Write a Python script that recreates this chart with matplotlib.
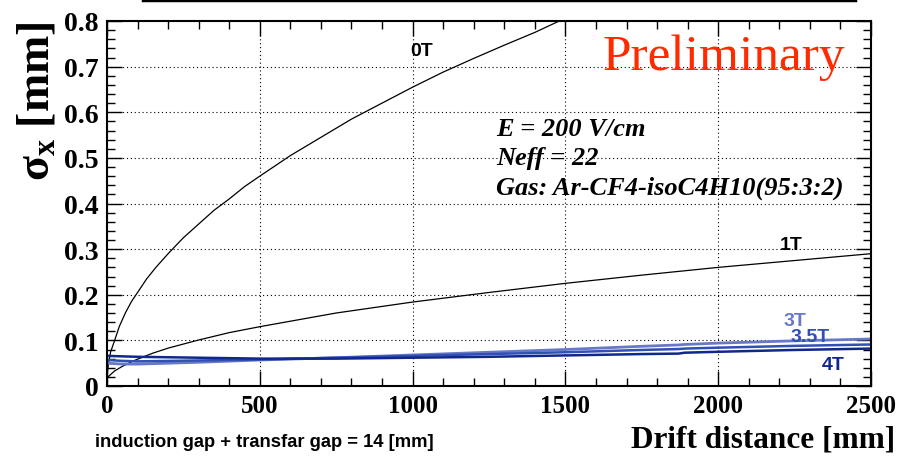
import matplotlib
matplotlib.use("Agg")
import matplotlib.pyplot as plt
from matplotlib.ticker import MultipleLocator, FormatStrFormatter

plt.rcParams["mathtext.fontset"] = "custom"
plt.rcParams["mathtext.rm"] = "Liberation Serif:bold"
plt.rcParams["mathtext.it"] = "Liberation Serif:bold:italic"
plt.rcParams["mathtext.bf"] = "Liberation Serif:bold"

SERIF = "Liberation Serif"
SANS = "Liberation Sans"

# drift distance [mm] and sigma_x [mm]
x_0t = [0, 5, 12, 25, 40, 60, 80, 100, 130, 160, 200, 250, 300, 350, 400, 450, 500, 600, 700,
        800, 900, 1000, 1100, 1200, 1300, 1400, 1480]
y_0t = [0.02, 0.05, 0.075, 0.10, 0.13, 0.16, 0.185, 0.205, 0.235, 0.26, 0.29, 0.325, 0.355,
        0.385, 0.41, 0.437, 0.46, 0.505, 0.545, 0.585, 0.62, 0.655, 0.688, 0.718, 0.747,
        0.775, 0.80]

x_1t = [0, 25, 50, 86, 150, 200, 295, 400, 500, 750, 1000, 1250, 1500, 1750, 2000, 2250, 2500]
y_1t = [0.018, 0.033, 0.043, 0.055, 0.072, 0.083, 0.10, 0.117, 0.13, 0.16, 0.184, 0.205, 0.225,
        0.243, 0.26, 0.275, 0.29]

x_b = [0, 50, 100, 200, 300, 500, 750, 1000, 1250, 1500, 1750, 1870, 1890, 2000, 2250, 2500]
y_3t = [0.050, 0.048, 0.048, 0.050, 0.052, 0.057, 0.062, 0.068, 0.074, 0.080, 0.087, 0.090, 0.091,
        0.094, 0.099, 0.103]
y_35t = [0.057, 0.055, 0.054, 0.055, 0.056, 0.058, 0.062, 0.066, 0.070, 0.074, 0.079, 0.081, 0.082,
         0.084, 0.088, 0.091]
y_4t = [0.066, 0.065, 0.064, 0.063, 0.062, 0.060, 0.060, 0.062, 0.064, 0.067, 0.070, 0.071, 0.073,
        0.075, 0.079, 0.082]

info_lines = ["E = 200 V/cm", "Neff = 22", "Gas: Ar-CF4-isoC4H10(95:3:2)"]

fig = plt.figure(figsize=(9.08, 4.6), dpi=100, facecolor="white")
ax = fig.add_axes([107 / 908, 1 - 387 / 460, 764 / 908, 365 / 460])

ax.plot(x_0t, y_0t, color="black", lw=0.9)
ax.plot(x_1t, y_1t, color="black", lw=0.9)
ax.plot(x_b, y_3t, color="#6878c8", lw=2.0)
ax.plot(x_b, y_35t, color="#3050b4", lw=1.8)
ax.plot(x_b, y_4t, color="#10288c", lw=1.8)

ax.set_xlim(0, 2500)
ax.set_ylim(0, 0.8)
ax.xaxis.set_major_locator(MultipleLocator(500))
ax.xaxis.set_minor_locator(MultipleLocator(100))
ax.yaxis.set_major_locator(MultipleLocator(0.1))
ax.yaxis.set_minor_locator(MultipleLocator(0.02))
ax.yaxis.set_major_formatter(FormatStrFormatter("%g"))
ax.tick_params(which="both", direction="in", top=True, right=True, width=1.0)
ax.tick_params(which="major", length=11, pad=6)
ax.tick_params(which="minor", length=6)
for lab in ax.get_yticklabels():
    lab.set_fontfamily(SERIF)
    lab.set_fontweight("bold")
    lab.set_fontsize(20)
for lab in ax.get_xticklabels():
    lab.set_fontfamily(SERIF)
    lab.set_fontweight("bold")
    lab.set_fontsize(18)
ax.grid(True, which="major", linestyle=(0, (1, 2.5)), color="black", lw=0.8)
for sp in ax.spines.values():
    sp.set_linewidth(1.5)

ax.set_ylabel(r"$\mathrm{\sigma_x}$ [mm]", fontsize=33, fontfamily=SERIF, fontweight="bold",
              loc="top", labelpad=4)

fig.text(895 / 908, 1 - 440 / 460, "Drift distance [mm]", fontsize=22.5, fontfamily=SERIF,
         fontweight="bold", ha="right", va="center")

labels = [("0T", 422, 52, "black"), ("1T", 791, 246, "black"), ("3T", 795, 321, "#6878c8"),
          ("3.5T", 810, 338, "#3050b4"), ("4T", 833, 366, "#10288c")]
for text, px, py, col in labels:
    ax.text((px - 107) / 764, (387 - py) / 365, text, transform=ax.transAxes, color=col,
            fontsize=14, fontfamily=SANS, fontweight="bold", ha="center", va="center")

ax.text((845 - 107) / 764, (387 - 58) / 365, "Preliminary", transform=ax.transAxes,
        color="#ff2a00", fontsize=37, fontfamily=SERIF, ha="right", va="center")

for i, line in enumerate(info_lines):
    ax.text((496 - 107) / 764, (387 - 130 - 29 * i) / 365, line, transform=ax.transAxes,
            fontsize=19, fontfamily=SERIF, fontweight="bold", fontstyle="italic",
            ha="left", va="center")

fig.text(95 / 908, 1 - 443 / 460, "induction gap + transfar gap = 14 [mm]", fontsize=13.2,
         fontfamily=SANS, fontweight="bold", ha="left", va="center")

# cut-off rule from the slide above the plot
fig.add_artist(plt.Line2D([143 / 908, 855 / 908], [0.997, 0.997], color="black", lw=2.5))

fig.savefig("out.png", dpi=100)
